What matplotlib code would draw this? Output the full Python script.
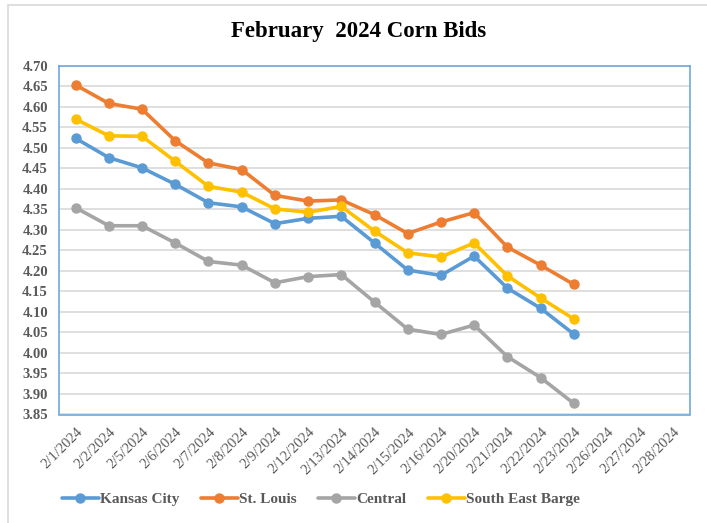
import numpy as np
import matplotlib
matplotlib.use("Agg")
import matplotlib.pyplot as plt
from matplotlib.patches import Rectangle

dates = ["2/1/2024", "2/2/2024", "2/5/2024", "2/6/2024", "2/7/2024", "2/8/2024",
         "2/9/2024", "2/12/2024", "2/13/2024", "2/14/2024", "2/15/2024", "2/16/2024",
         "2/20/2024", "2/21/2024", "2/22/2024", "2/23/2024", "2/26/2024", "2/27/2024",
         "2/28/2024"]

kansas_city = [4.523, 4.476, 4.451, 4.411, 4.366, 4.356, 4.315, 4.328, 4.333, 4.268,
               4.202, 4.189, 4.236, 4.158, 4.109, 4.046]
st_louis = [4.653, 4.608, 4.594, 4.517, 4.463, 4.447, 4.384, 4.370, 4.373, 4.337,
            4.291, 4.319, 4.342, 4.258, 4.214, 4.167]
central = [4.354, 4.310, 4.310, 4.268, 4.223, 4.214, 4.171, 4.186, 4.191, 4.124,
           4.058, 4.045, 4.068, 3.991, 3.940, 3.877]
south_east_barge = [4.570, 4.529, 4.528, 4.467, 4.406, 4.392, 4.351, 4.343, 4.357, 4.297,
                    4.244, 4.234, 4.268, 4.188, 4.134, 4.083]

series = [
    ("Kansas City", kansas_city, "#5B9BD5"),
    ("St. Louis", st_louis, "#ED7D31"),
    ("Central", central, "#A5A5A5"),
    ("South East Barge", south_east_barge, "#FFC000"),
]

serif = ["Liberation Serif", "DejaVu Serif"]
tick_color = "#595959"

fig = plt.figure(figsize=(7.07, 5.23), dpi=100)
ax = fig.add_axes([59 / 707, 1 - 414.5 / 523, (690 - 59) / 707, (414.5 - 65.7) / 523])

x = np.arange(len(dates))
for name, vals, col in series:
    ax.plot(x[:len(vals)], vals, color=col, lw=2.6, marker="o", markersize=6.5,
            label=name, solid_capstyle="round")

ax.set_xlim(-0.5, len(dates) - 0.5)
ax.set_ylim(3.85, 4.70)
yt = np.arange(3.85, 4.7001, 0.05)
ax.set_yticks(yt)
ax.set_yticklabels([f"{v:.2f}" for v in yt],
                   fontfamily=serif, fontweight="bold", fontsize=10.5, color=tick_color)
ax.set_xticks(x)
ax.set_xticklabels(dates, rotation=45, ha="right", rotation_mode="anchor",
                   fontfamily=serif, fontweight="normal", fontsize=10.5, color=tick_color)
ax.tick_params(axis="both", length=0)
ax.tick_params(axis="x", pad=8)
ax.tick_params(axis="y", pad=8)

ax.grid(axis="y", color="#D9D9D9", lw=1.2)
ax.set_axisbelow(True)
for s in ax.spines.values():
    s.set_color("#6FA8DC")
    s.set_linewidth(1.2)

fig.text(359 / 707, 1 - 32 / 523, "February  2024 Corn Bids", ha="center", va="center",
         fontfamily=serif, fontweight="bold", fontsize=16.5, color="black")

leg = fig.legend(loc="center left", bbox_to_anchor=(62 / 707, 1 - 499 / 523), ncol=4,
                 frameon=False, handlelength=2.4, handletextpad=0.1, columnspacing=1.4,
                 borderpad=0, borderaxespad=0,
                 prop={"family": serif, "weight": "bold", "size": 11})
for t in leg.get_texts():
    t.set_color(tick_color)

fig.patches.append(Rectangle((8 / 707, -0.1), 1.2, 1 - 5 / 523 + 0.1,
                             transform=fig.transFigure, fill=False,
                             edgecolor="#D9D9D9", lw=1.2, zorder=-1))

fig.savefig("out.png", dpi=100)
